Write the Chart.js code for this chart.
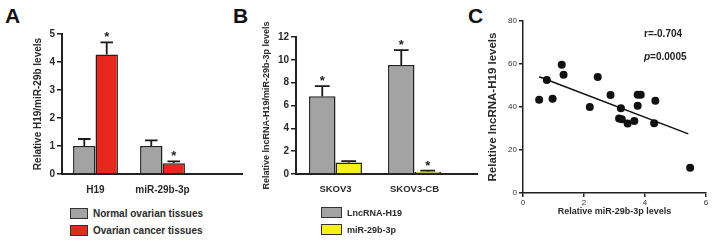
<!DOCTYPE html>
<html>
<head>
<meta charset="utf-8">
<script src="https://cdn.jsdelivr.net/npm/chart.js@4.4.1/dist/chart.umd.min.js"></script>
<style>
  body { margin: 0; background: #fff; width: 712px; height: 244px; position: relative; overflow: hidden;
         font-family: "Liberation Sans", Arial, sans-serif; }
  canvas { position: absolute; }
  .tag { position: absolute; font-weight: bold; font-size: 21px; line-height: 1; color: #111; }
  .leg { position: absolute; font-weight: bold; color: #2a2a2a; }
  .leg .row { display: flex; align-items: center; height: 17px; white-space: nowrap; }
  .leg .box { border: 1px solid #333; box-sizing: border-box; height: 11px; }
  .stat { position: absolute; font-weight: bold; font-size: 10px; line-height: 12px; color: #222; }
</style>
</head>
<body>
<div class="tag" style="left:5px;top:5px">A</div>
<div class="tag" style="left:233px;top:5px">B</div>
<div class="tag" style="left:468px;top:5px">C</div>

<canvas id="canvasA" width="245" height="200" style="left:0;top:0"></canvas>
<canvas id="canvasB" width="250" height="200" style="left:230px;top:0"></canvas>
<canvas id="canvasC" width="252" height="230" style="left:460px;top:0"></canvas>

<div class="leg" id="legA" style="left:70px;top:205px;font-size:10px"></div>
<div class="leg" id="legB" style="left:321px;top:204px;font-size:9px"></div>

<div class="stat" style="left:644px;top:28px">r=-0.704</div>
<div class="stat" style="left:644px;top:51px"><i>p</i>=0.0005</div>

<script>
/* panel A data */
const groupsA = ['H19', 'miR-29b-3p'];
const normalA = [1.0, 1.0];
const normalErrA = [0.25, 0.2];
const cancerA = [4.27, 0.38];
const cancerErrA = [0.43, 0.07];
const starsNormalA = [false, false];
const starsCancerA = [true, true];

/* panel B data */
const groupsB = ['SKOV3', 'SKOV3-CB'];
const h19B = [6.8, 9.55];
const h19ErrB = [0.9, 1.3];
const mirB = [1.0, 0.2];
const mirErrB = [0.13, 0.1];
const starsH19B = [true, true];
const starsMirB = [false, true];

/* panel C data */
const mirC = [0.53, 0.78, 0.97, 1.27, 1.33, 2.19, 2.45, 2.87, 3.15, 3.21, 3.24, 3.43, 3.65, 3.76, 3.76, 3.86, 4.30, 4.34, 5.48];
const h19C = [43.4, 52.6, 43.8, 59.7, 55.0, 40.0, 54.0, 45.6, 34.6, 39.4, 34.3, 32.3, 33.5, 40.6, 45.7, 45.7, 32.5, 42.9, 11.8];
const fitX = [0.53, 5.42];
const fitY = [54.1, 27.5];

const grey = '#a3a3a3';
const red = '#e8281f';
const yellow = '#f7f01a';
const ink = '#222';

/* error bars + asterisks */
const errorBars = {
  id: 'errorBars',
  afterDatasetsDraw(chart) {
    const ctx = chart.ctx;
    const y = chart.scales.y;
    chart.data.datasets.forEach((ds, di) => {
      if (!ds.errors) return;
      chart.getDatasetMeta(di).data.forEach((bar, i) => {
        const top = y.getPixelForValue(ds.data[i] + ds.errors[i]);
        const half = bar.width * 0.28;
        ctx.save();
        ctx.strokeStyle = '#1a1a1a';
        ctx.lineWidth = 1.8;
        ctx.beginPath();
        ctx.moveTo(bar.x, bar.y);
        ctx.lineTo(bar.x, top);
        ctx.moveTo(bar.x - half, top);
        ctx.lineTo(bar.x + half, top);
        ctx.stroke();
        if (ds.stars && ds.stars[i]) {
          ctx.fillStyle = '#222';
          ctx.font = 'bold 13px "Liberation Sans"';
          ctx.textAlign = 'center';
          ctx.textBaseline = 'alphabetic';
          ctx.fillText('*', bar.x, top - 1);
        }
        ctx.restore();
      });
    });
  }
};

/* x axis line runs on past the last group */
const axisTail = {
  id: 'axisTail',
  afterDraw(chart, args, opts) {
    if (!opts.to) return;
    const {ctx, chartArea} = chart;
    ctx.save();
    ctx.strokeStyle = ink;
    ctx.lineWidth = 2;
    ctx.beginPath();
    ctx.moveTo(chartArea.right - 1, chartArea.bottom);
    ctx.lineTo(opts.to, chartArea.bottom);
    ctx.stroke();
    ctx.restore();
  }
};

function barChart(id, groups, sets, yMax, yStep, yTitle, titleSize, titlePad, yWidth, pad, tailTo, xFont) {
  return new Chart(document.getElementById(id), {
    type: 'bar',
    data: {
      labels: groups,
      datasets: sets.map(s => ({
        label: s.label,
        data: s.data,
        errors: s.errors,
        stars: s.stars,
        backgroundColor: s.color,
        borderColor: ink,
        borderWidth: 1.5,
        borderSkipped: 'bottom',
        barPercentage: 1,
        categoryPercentage: 0.67
      }))
    },
    options: {
      responsive: false,
      animation: false,
      layout: { padding: pad },
      plugins: { legend: { display: false }, tooltip: { enabled: false }, axisTail: { to: tailTo } },
      scales: {
        x: {
          grid: { display: false },
          border: { display: true, color: ink, width: 2 },
          ticks: { color: '#2a2a2a', padding: 2, font: { family: 'Liberation Sans', weight: 'bold', size: xFont } },
          afterFit(s) { s.height = 26; }
        },
        y: {
          min: 0, max: yMax,
          grid: { drawOnChartArea: false, tickLength: 5, color: ink, lineWidth: 1.5 },
          border: { display: true, color: ink, width: 2 },
          ticks: { stepSize: yStep, padding: 2, color: '#2a2a2a', font: { family: 'Liberation Sans', weight: 'bold', size: 10 } },
          title: { display: true, text: yTitle, color: '#2a2a2a', padding: { top: titlePad, bottom: 0 },
                   font: { family: 'Liberation Sans', weight: 'bold', size: titleSize } },
          afterFit(s) { s.width = yWidth; }
        }
      }
    },
    plugins: [errorBars, axisTail]
  });
}

const chartA = barChart('canvasA', groupsA, [
  { label: 'Normal ovarian tissues', data: normalA, errors: normalErrA, stars: starsNormalA, color: grey },
  { label: 'Ovarian cancer tissues', data: cancerA, errors: cancerErrA, stars: starsCancerA, color: red }
], 5, 1, 'Relative H19/miR-29b levels', 10, 32, 62, { top: 34, right: 49, left: 0, bottom: 0 }, 243, 10);

const chartB = barChart('canvasB', groupsB, [
  { label: 'LncRNA-H19', data: h19B, errors: h19ErrB, stars: starsH19B, color: grey },
  { label: 'miR-29b-3p', data: mirB, errors: mirErrB, stars: starsMirB, color: yellow }
], 12, 2, 'Relative lncRNA-H19/miR-29b-3p levels', 9, 31, 66, { top: 37, right: 26, left: 0, bottom: 0 }, 248, 9.5);

/* html legends built from the datasets */
function legend(elId, chart, boxW) {
  const el = document.getElementById(elId);
  chart.data.datasets.forEach(ds => {
    const row = document.createElement('div');
    row.className = 'row';
    const box = document.createElement('span');
    box.className = 'box';
    box.style.width = boxW + 'px';
    box.style.marginRight = '5px';
    box.style.background = ds.backgroundColor;
    const txt = document.createElement('span');
    txt.textContent = ds.label;
    row.appendChild(box);
    row.appendChild(txt);
    el.appendChild(row);
  });
}
legend('legA', chartA, 18);
legend('legB', chartB, 21);

/* panel C scatter */
new Chart(document.getElementById('canvasC'), {
  type: 'scatter',
  data: {
    datasets: [
      {
        label: 'fit',
        type: 'line',
        data: fitX.map((x, i) => ({ x: x, y: fitY[i] })),
        borderColor: '#111',
        borderWidth: 1.5,
        pointRadius: 0,
        order: 2
      },
      {
        label: 'samples',
        data: mirC.map((x, i) => ({ x: x, y: h19C[i] })),
        pointRadius: 4,
        pointBackgroundColor: '#111',
        pointBorderWidth: 0,
        order: 1
      }
    ]
  },
  options: {
    responsive: false,
    animation: false,
    layout: { padding: { top: 21, right: 6, left: 0, bottom: 0 } },
    plugins: { legend: { display: false }, tooltip: { enabled: false } },
    scales: {
      x: {
        type: 'linear', min: 0, max: 6,
        grid: { drawOnChartArea: false, tickLength: 4, color: ink, lineWidth: 1.5 },
        border: { display: true, color: ink, width: 1.5 },
        ticks: { stepSize: 2, padding: 1, color: '#333', font: { family: 'Liberation Sans', size: 8 } },
        title: { display: true, text: 'Relative miR-29b-3p levels', color: '#2a2a2a', padding: { top: 0, bottom: 12.6 },
                 font: { family: 'Liberation Sans', weight: 'bold', size: 9 } },
        afterFit(s) { s.height = 37; }
      },
      y: {
        min: 0, max: 80,
        grid: { drawOnChartArea: false, tickLength: 4, color: ink, lineWidth: 1.5 },
        border: { display: true, color: ink, width: 1.5 },
        ticks: { stepSize: 20, padding: 2, color: '#333', font: { family: 'Liberation Sans', size: 8 } },
        title: { display: true, text: 'Relative lncRNA-H19 levels', color: '#2a2a2a', padding: { top: 26, bottom: 0 },
                 font: { family: 'Liberation Sans', weight: 'bold', size: 11.5 } },
        afterFit(s) { s.width = 63; }
      }
    }
  }
});
</script>
</body>
</html>
